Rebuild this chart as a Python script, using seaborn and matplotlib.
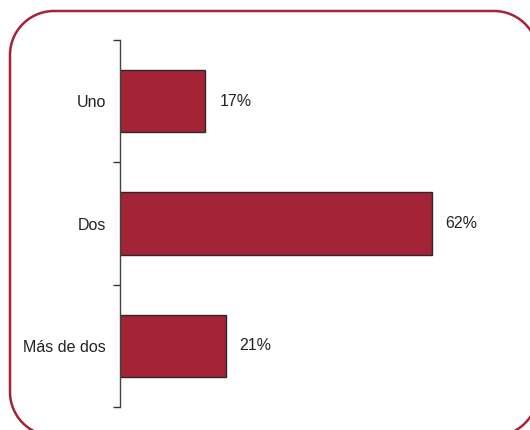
import matplotlib
matplotlib.use("Agg")
import matplotlib.pyplot as plt
import seaborn as sns
import pandas as pd
import numpy as np
from matplotlib.patches import PathPatch
from matplotlib.path import Path
from matplotlib.transforms import IdentityTransform

# Data
categories = ["Uno", "Dos", "Más de dos"]
percentages = [17, 62, 21]
value_labels = ["17%", "62%", "21%"]

bar_color = "#A52336"

sns.set_style("white")
plt.rcParams['font.family'] = ['Liberation Sans', 'DejaVu Sans']
plt.rcParams['font.size'] = 11.5

df = pd.DataFrame({"cat": categories, "pct": percentages})

fig = plt.figure(figsize=(5.3, 4.3), dpi=100)
ax = fig.add_axes([120 / 530, 23 / 430, 402 / 530, 367 / 430])

sns.barplot(data=df, x="pct", y="cat", orient="h", color=bar_color,
            saturation=1, width=0.507, edgecolor="#2a2a2a", linewidth=1, ax=ax)

ax.set_xlim(0, 80)
ax.set_ylim(2.5, -0.5)

# category labels in the middle, ticks at the boundaries
ax.set_yticks([-0.5, 0.5, 1.5, 2.5])
ax.set_yticklabels([])
ax.set_yticks(range(len(categories)), minor=True)
ax.set_yticklabels(categories, minor=True)
ax.tick_params(axis="y", which="major", direction="out", length=5, width=1,
               color="#333333", left=True)
ax.tick_params(axis="y", which="minor", length=0, pad=10, labelsize=11.5,
               labelcolor="#222222")
ax.set_xticks([])
ax.set_xlabel("")
ax.set_ylabel("")

for s in ["top", "right", "bottom"]:
    ax.spines[s].set_visible(False)
ax.spines["left"].set_color("#444444")
ax.spines["left"].set_linewidth(1)

for i, (v, lab) in enumerate(zip(percentages, value_labels)):
    ax.annotate(lab, xy=(v, i), xytext=(14, 0), textcoords="offset pixels",
                va="center", ha="left", fontsize=11.5, color="#222222")


# rounded frame around the chart, in pixel coordinates (origin bottom-left)
def rounded_rect(x0, y0, x1, y1, r):
    pts = []
    for cx, cy, a0 in [(x1 - r, y1 - r, 0), (x0 + r, y1 - r, 90),
                       (x0 + r, y0 + r, 180), (x1 - r, y0 + r, 270)]:
        t = np.radians(np.linspace(a0, a0 + 90, 30))
        pts += list(zip(cx + r * np.cos(t), cy + r * np.sin(t)))
    pts.append(pts[0])
    return Path(pts)


frame = PathPatch(rounded_rect(10, -6, 538, 419, 44), transform=IdentityTransform(),
                  fill=False, edgecolor=bar_color, linewidth=1.8)
fig.patches.append(frame)

fig.savefig("out.png", dpi=100)
